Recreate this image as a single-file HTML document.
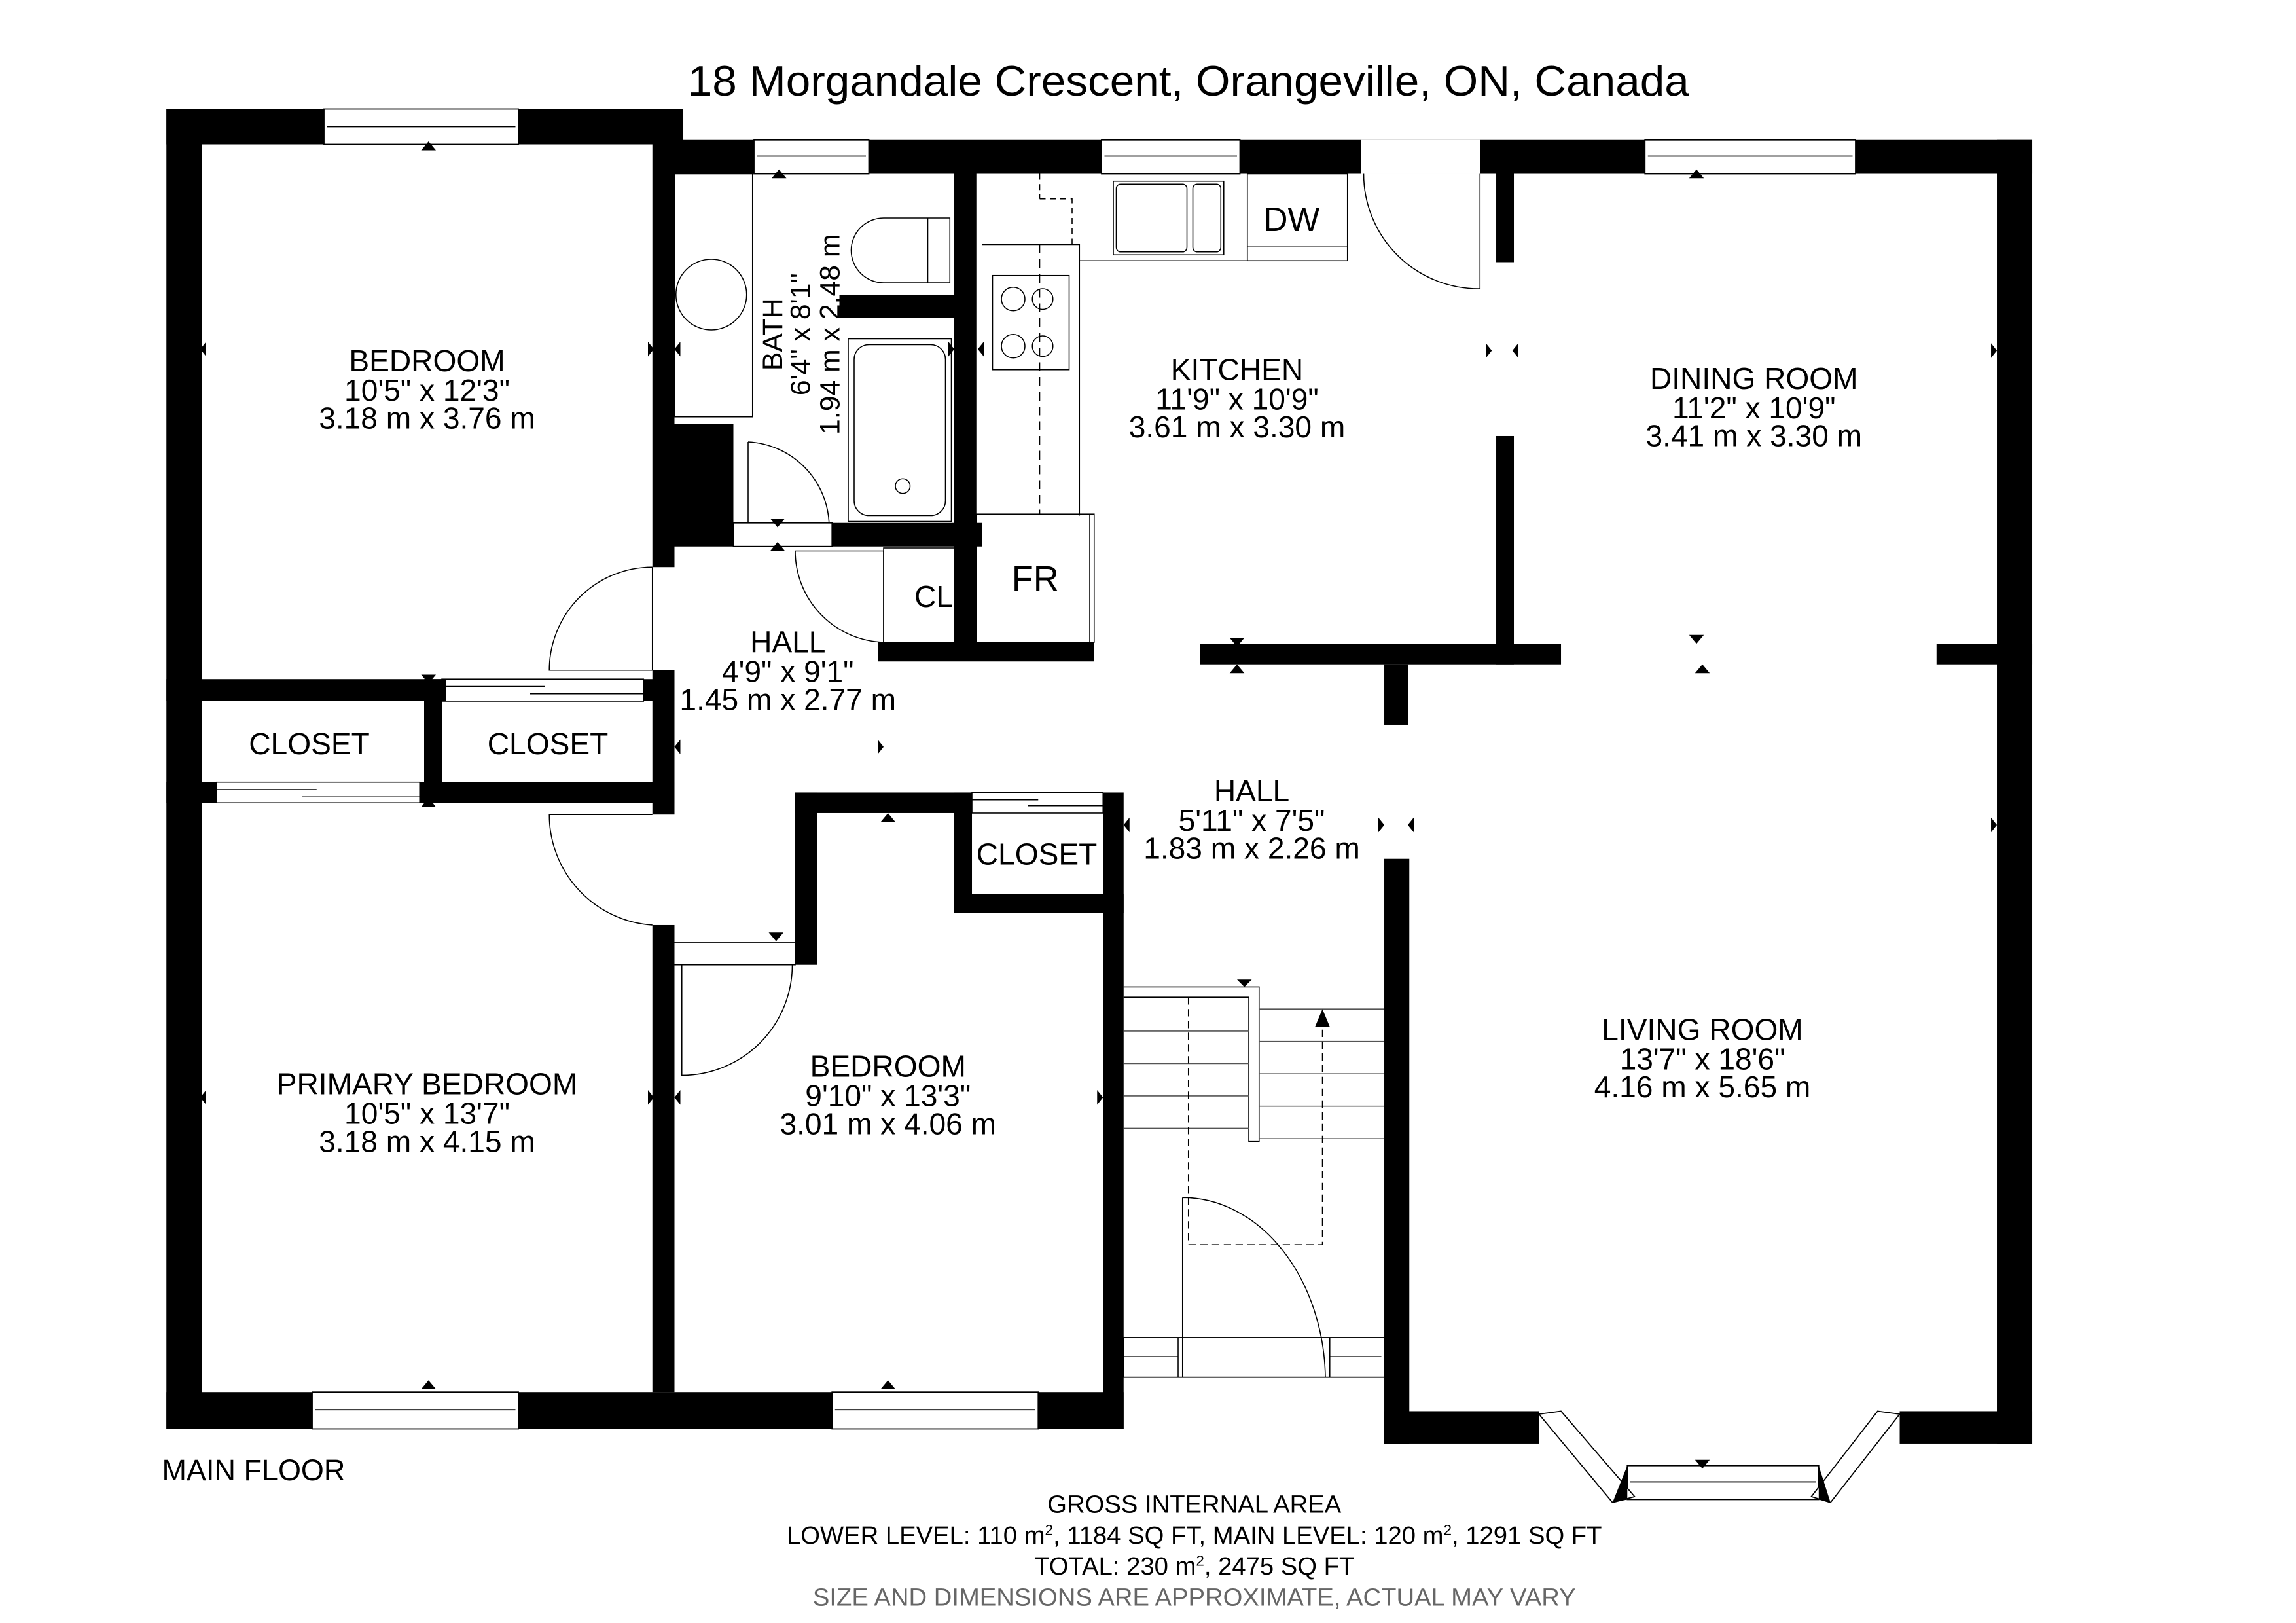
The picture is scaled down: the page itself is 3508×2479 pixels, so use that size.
<!DOCTYPE html>
<html><head><meta charset="utf-8"><style>
html,body{margin:0;padding:0;background:#fff;}
svg{display:block;}
text{font-family:"Liberation Sans",sans-serif;fill:#000;}
</style></head><body>
<svg width="3508" height="2479" viewBox="0 0 1559.1 1101.8" preserveAspectRatio="none" xmlns="http://www.w3.org/2000/svg">
<rect width="1560" height="1102" fill="#fff"/>
<text x="807" y="65" font-size="29" text-anchor="middle" textLength="680" lengthAdjust="spacingAndGlyphs">18 Morgandale Crescent, Orangeville, ON, Canada</text>
<g fill="#000">
<rect x="113" y="74" width="351" height="24"/>
<rect x="113" y="74" width="24" height="896"/>
<rect x="113" y="945" width="650" height="25"/>
<rect x="443" y="98" width="15" height="287"/>
<rect x="443" y="455" width="15" height="98"/>
<rect x="443" y="628" width="15" height="317"/>
<rect x="113" y="461" width="190" height="15"/>
<rect x="437" y="461" width="21" height="15"/>
<rect x="288" y="461" width="12" height="84"/>
<rect x="113" y="531" width="34" height="14"/>
<rect x="285" y="531" width="173" height="14"/>
<rect x="444" y="95" width="936" height="23"/>
<rect x="1356" y="95" width="24" height="885"/>
<rect x="444" y="288" width="54" height="69"/>
<rect x="444" y="355" width="54" height="16"/>
<rect x="565" y="355" width="102" height="16"/>
<rect x="648" y="118" width="15" height="330"/>
<rect x="570" y="200" width="81" height="16"/>
<rect x="596" y="436" width="147" height="13"/>
<rect x="1016" y="118" width="12" height="60"/>
<rect x="1016" y="296" width="12" height="155"/>
<rect x="815" y="437" width="245" height="14"/>
<rect x="940" y="451" width="16" height="41"/>
<rect x="1315" y="437" width="65" height="14"/>
<rect x="540" y="538" width="120" height="14"/>
<rect x="540" y="538" width="15" height="117"/>
<rect x="648" y="538" width="12" height="82"/>
<rect x="648" y="607" width="115" height="13"/>
<rect x="749" y="538" width="14" height="432"/>
<rect x="940" y="583" width="17" height="397"/>
<rect x="940" y="958" width="105" height="22"/>
<rect x="1290" y="958" width="90" height="22"/>
</g>
<g fill="#fff" stroke="#000" stroke-width="0.8">
<rect x="220" y="74" width="132" height="24"/><line x1="222" y1="86" x2="350" y2="86"/>
<rect x="212" y="945" width="140" height="25"/><line x1="214" y1="957" x2="350" y2="957"/>
<rect x="565" y="945" width="140" height="25"/><line x1="567" y1="957" x2="703" y2="957"/>
<rect x="512" y="95" width="78" height="23"/><line x1="514" y1="106" x2="588" y2="106"/>
<rect x="748" y="95" width="94" height="23"/><line x1="750" y1="106" x2="840" y2="106"/>
<rect x="924" y="95" width="81" height="23" stroke="none"/>
<rect x="1117" y="95" width="143" height="23"/><line x1="1119" y1="106" x2="1258" y2="106"/>
<rect x="498" y="355" width="67" height="16"/>
<rect x="1105" y="995" width="130" height="23"/><line x1="1107" y1="1006" x2="1233" y2="1006"/>
<polygon points="1045,960 1060,958 1110,1016 1095,1020"/>
<polygon points="1290,960 1275,958 1230,1016 1243,1020"/>
<rect x="763" y="908" width="177" height="27"/>
</g>
<g fill="#000"><polygon points="1095,1020 1105,995 1105,1018"/><polygon points="1243,1020 1235,995 1235,1018"/></g>
<g fill="none" stroke="#000" stroke-width="0.7">
<rect x="300" y="461" width="137" height="15"/><line x1="300" y1="466" x2="370" y2="466"/><line x1="360" y1="471" x2="437" y2="471"/>
<rect x="147" y="531" width="138" height="14"/><line x1="147" y1="536" x2="215" y2="536"/><line x1="205" y1="541" x2="285" y2="541"/>
<rect x="660" y="538" width="89" height="14"/><line x1="660" y1="543" x2="705" y2="543"/><line x1="698" y1="547" x2="749" y2="547"/>
</g>
<g fill="none" stroke="#000" stroke-width="0.7">
<path d="M443,385 L443,455 M443,455 L373,455 A70,70 0 0 1 443,385"/>
<path d="M443,553 L373,553 A75,75 0 0 0 443,628"/>
<path d="M458,640 L540,640 L540,655 L458,655"/>
<path d="M463,655 L463,730 A75,75 0 0 0 538,655"/>
<path d="M508,300 L508,355"/>
<path d="M508,300 A58,58 0 0 1 563,355"/>
<path d="M540,374 L600,374 L600,436 A62,62 0 0 1 540,374"/>
<path d="M926,118 A78,78 0 0 0 1005,196 L1005,118"/>
<rect x="600" y="372" width="51" height="64"/>
<rect x="663" y="349" width="80" height="87"/><line x1="740" y1="349" x2="740" y2="436"/>
<rect x="458" y="118" width="53" height="165"/>
<circle cx="483" cy="200" r="24"/>
<path d="M645,148 L600,148 A22,22 0 0 0 600,192 L645,192 Z"/><line x1="630" y1="148" x2="630" y2="192"/>
<rect x="576" y="230" width="70" height="124"/><rect x="580" y="234" width="62" height="116" rx="10"/>
<circle cx="613" cy="330" r="5"/>
<path d="M667,166 L733,166 L733,350"/>
<path d="M733,177 L915,177 L915,118"/>
<path d="M706,118 L706,135 M706,135 L728,135 L728,166" stroke-dasharray="4,3"/>
<line x1="706" y1="166" x2="706" y2="349" stroke-dasharray="6,4"/>
<rect x="756" y="123" width="75" height="50"/><rect x="758" y="125" width="48" height="46" rx="3"/><rect x="810" y="125" width="19" height="46" rx="3"/>
<rect x="847" y="118" width="68" height="59"/><line x1="847" y1="167" x2="915" y2="167"/>
<rect x="674" y="187" width="52" height="64"/>
<circle cx="688" cy="203" r="8"/><circle cx="708" cy="203" r="7"/><circle cx="688" cy="235" r="8"/><circle cx="708" cy="235" r="7"/>
<path d="M763,670 L855,670 L855,775 L848,775 L848,677 L763,677"/>
<g stroke="#555">
<line x1="763" y1="700" x2="848" y2="700"/><line x1="763" y1="722" x2="848" y2="722"/><line x1="763" y1="744" x2="848" y2="744"/><line x1="763" y1="766" x2="848" y2="766"/>
<line x1="855" y1="685" x2="940" y2="685"/><line x1="855" y1="707" x2="940" y2="707"/><line x1="855" y1="729" x2="940" y2="729"/><line x1="855" y1="751" x2="940" y2="751"/><line x1="855" y1="773" x2="940" y2="773"/>
</g>
<path d="M807,677 L807,845 L898,845 L898,695" stroke-dasharray="5,3"/>
<path d="M803,813 L803,935 M803,813 A97,125 0 0 1 900,935"/>
<line x1="763" y1="921" x2="800" y2="921"/><line x1="903" y1="921" x2="938" y2="921"/>
<line x1="800" y1="908" x2="800" y2="935"/><line x1="903" y1="908" x2="903" y2="935"/>
</g>
<polygon points="898,685 893,697 903,697" fill="#000"/>
<g fill="#000">
<polygon points="286,102 296,102 291,96"/><polygon points="286,458 296,458 291,464"/><polygon points="286,548 296,548 291,541"/>
<polygon points="286,943 296,943 291,937"/><polygon points="598,943 608,943 603,937"/>
<polygon points="524,121 534,121 529,115"/><polygon points="523,352 533,352 528,358"/><polygon points="523,374 533,374 528,368"/>
<polygon points="1147,121 1157,121 1152,115"/><polygon points="835,433 845,433 840,439"/><polygon points="835,457 845,457 840,451"/>
<polygon points="1147,431 1157,431 1152,437"/><polygon points="1151,457 1161,457 1156,451"/>
<polygon points="598,558 608,558 603,552"/><polygon points="522,633 532,633 527,639"/><polygon points="840,665 850,665 845,670"/>
<polygon points="1151,991 1161,991 1156,997"/>
<polygon points="140,232 140,242 136,237"/><polygon points="440,232 440,242 444,237"/>
<polygon points="462,232 462,242 458,237"/><polygon points="644,232 644,242 648,237"/><polygon points="668,232 668,242 664,237"/>
<polygon points="1009,233 1009,243 1013,238"/><polygon points="1031,233 1031,243 1027,238"/><polygon points="1352,233 1352,243 1356,238"/>
<polygon points="140,740 140,750 136,745"/><polygon points="440,740 440,750 444,745"/><polygon points="462,740 462,750 458,745"/><polygon points="745,740 745,750 749,745"/>
<polygon points="462,502 462,512 458,507"/><polygon points="596,502 596,512 600,507"/>
<polygon points="767,555 767,565 763,560"/><polygon points="936,555 936,565 940,560"/><polygon points="960,555 960,565 956,560"/>
<polygon points="1352,555 1352,565 1356,560"/>
</g>
<g font-size="20.5" text-anchor="middle">
<text x="290" y="252">BEDROOM</text><text x="290" y="272">10'5" x 12'3"</text><text x="290" y="291">3.18 m x 3.76 m</text>
<text x="840" y="258">KITCHEN</text><text x="840" y="278">11'9" x 10'9"</text><text x="840" y="297">3.61 m x 3.30 m</text>
<text x="1191" y="264">DINING ROOM</text><text x="1191" y="284">11'2" x 10'9"</text><text x="1191" y="303">3.41 m x 3.30 m</text>
<text x="535" y="443">HALL</text><text x="535" y="463">4'9" x 9'1"</text><text x="535" y="482">1.45 m x 2.77 m</text>
<text x="210" y="512">CLOSET</text><text x="372" y="512">CLOSET</text><text x="704" y="587">CLOSET</text>
<text x="850" y="544">HALL</text><text x="850" y="564">5'11" x 7'5"</text><text x="850" y="583">1.83 m x 2.26 m</text>
<text x="1156" y="706">LIVING ROOM</text><text x="1156" y="726">13'7" x 18'6"</text><text x="1156" y="745">4.16 m x 5.65 m</text>
<text x="290" y="743">PRIMARY BEDROOM</text><text x="290" y="763">10'5" x 13'7"</text><text x="290" y="782">3.18 m x 4.15 m</text>
<text x="603" y="731">BEDROOM</text><text x="603" y="751">9'10" x 13'3"</text><text x="603" y="770">3.01 m x 4.06 m</text>
<text x="634" y="412">CL</text>
</g>
<text x="703" y="401" font-size="24" text-anchor="middle">FR</text>
<text x="877" y="157" font-size="23" text-anchor="middle">DW</text>
<text transform="translate(531,227) rotate(-90)" font-size="19" text-anchor="middle">BATH</text>
<text transform="translate(550,227) rotate(-90)" font-size="19" text-anchor="middle">6'4" x 8'1"</text>
<text transform="translate(570,227) rotate(-90)" font-size="19" text-anchor="middle">1.94 m x 2.48 m</text>
<text x="110" y="1005" font-size="20">MAIN FLOOR</text>
<g font-size="17" text-anchor="middle">
<text x="811" y="1027">GROSS INTERNAL AREA</text>
<text x="811" y="1048">LOWER LEVEL: 110 m<tspan font-size="10" dy="-6">2</tspan><tspan dy="6">, 1184 SQ FT, MAIN LEVEL: 120 m</tspan><tspan font-size="10" dy="-6">2</tspan><tspan dy="6">, 1291 SQ FT</tspan></text>
<text x="811" y="1069">TOTAL: 230 m<tspan font-size="10" dy="-6">2</tspan><tspan dy="6">, 2475 SQ FT</tspan></text>
<text x="811" y="1090" style="fill:#666">SIZE AND DIMENSIONS ARE APPROXIMATE, ACTUAL MAY VARY</text>
</g>
</svg>
</body></html>
